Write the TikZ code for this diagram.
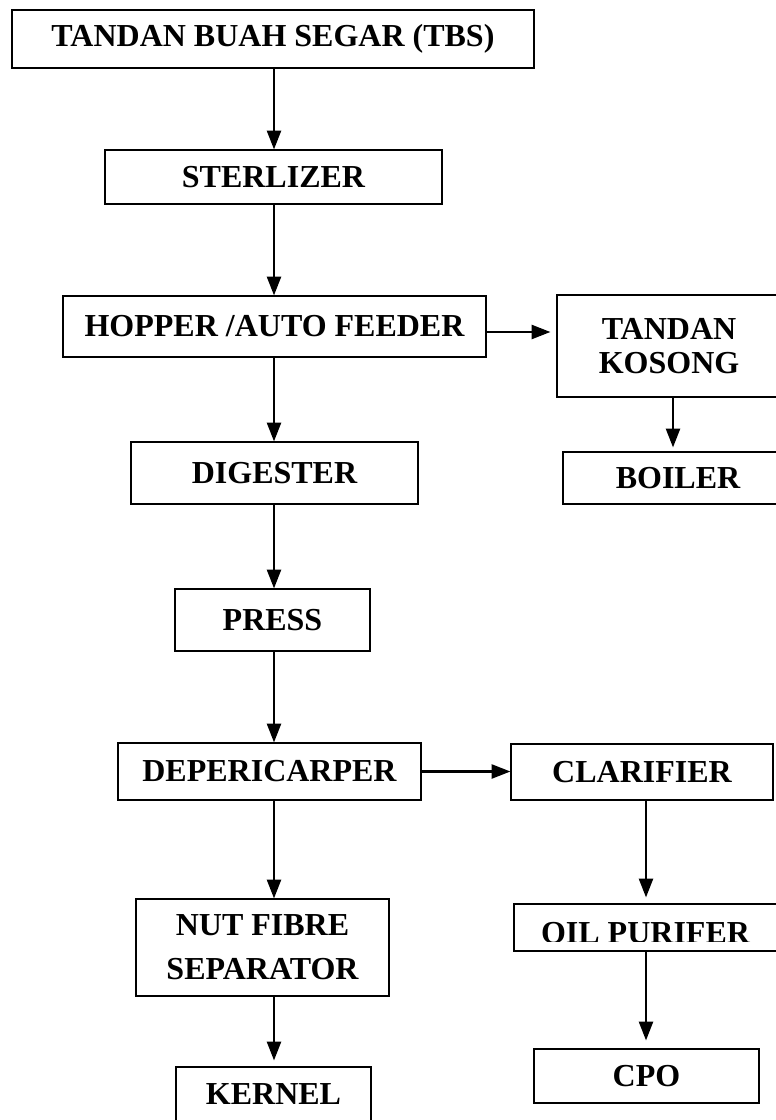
\documentclass[tikz,border=0pt]{standalone}
\usepackage{fontspec}
\setmainfont{Liberation Serif}
\usetikzlibrary{arrows.meta,calc}

\begin{document}
\begin{tikzpicture}[x=0.75pt,y=-0.75pt,
    proc/.style={draw,line width=0.9pt,inner sep=0pt,align=center,
                 font=\fontsize{24}{26}\selectfont\bfseries},
    sz/.style 2 args={minimum width=#1*0.75pt,minimum height=#2*0.75pt},
    flow/.style={line width=1.6pt,-{Triangle[length=14pt,width=10.5pt]}}]
  \useasboundingbox (0,0) rectangle (775,1120);
  % main line
  \node[proc,sz={522}{58}] (tbs) at (273,39) {TANDAN BUAH SEGAR (TBS)};
  \node[proc,sz={337}{54}] (ster) at (273.5,177) {STERLIZER};
  \node[proc,sz={423}{61}] (hop) at (274.5,326.5) {HOPPER /AUTO FEEDER};
  \node[proc,sz={287}{62}] (dig) at (274.5,473) {DIGESTER};
  \node[proc,sz={195}{62}] (press) at (272.5,620) {PRESS};
  \node[proc,sz={303}{57}] (dep) at (269.5,771.5) {DEPERICARPER};
  \node[proc,sz={253}{97}] (nfs) at (262.5,947.5) {NUT FIBRE\\[7pt]SEPARATOR};
  \node[proc,sz={195}{55}] (kern) at (273.5,1094.5) {KERNEL};
  % side lines
  \node[proc,sz={224}{102}] (tk) at (669,346) {TANDAN\\KOSONG};
  \node[proc,sz={230}{52}] (boil) at (678,478) {BOILER};
  \node[proc,sz={262}{56}] (clar) at (642,772) {CLARIFIER};
  \node[proc,sz={263}{47}] (op) at (645.5,927.5) {};
  \begin{scope}
    \clip (op.north west) rectangle ($(op.east)+(0,13.5)$);
    \node[font=\fontsize{24}{26}\selectfont\bfseries,inner sep=0pt] (optxt)
      at (645.5,933.5) {OIL PURIFER};
  \end{scope}
  \node[proc,sz={225}{54}] (cpo) at (646.5,1076) {CPO};
  % connectors
  \coordinate (col) at (274,0);
  \coordinate (colb) at (673,0);
  \coordinate (colc) at (646,0);
  \coordinate (rowa) at (0,332);
  \draw[flow] (col |- tbs.south) -- (col |- ster.north);
  \draw[flow] (col |- ster.south) -- (col |- hop.north);
  \draw[flow] (col |- hop.south) -- (col |- dig.north);
  \draw[flow] (col |- dig.south) -- (col |- press.north);
  \draw[flow] (col |- press.south) -- (col |- dep.north);
  \draw[flow] (col |- dep.south) -- (col |- nfs.north);
  \draw[flow,shorten >=4.5pt] (col |- nfs.south) -- (col |- kern.north);
  \draw[flow,shorten >=4.5pt] (hop.east |- rowa) -- (tk.west |- rowa);
  \draw[flow,shorten >=3pt] (colb |- tk.south) -- (colb |- boil.north);
  \draw[flow] (dep.east) -- (dep.east -| clar.west);
  \draw[flow,shorten >=4.5pt] (colc |- clar.south) -- (colc |- op.north);
  \draw[flow,shorten >=6pt] (colc |- op.south) -- (colc |- cpo.north);
\end{tikzpicture}
\end{document}
